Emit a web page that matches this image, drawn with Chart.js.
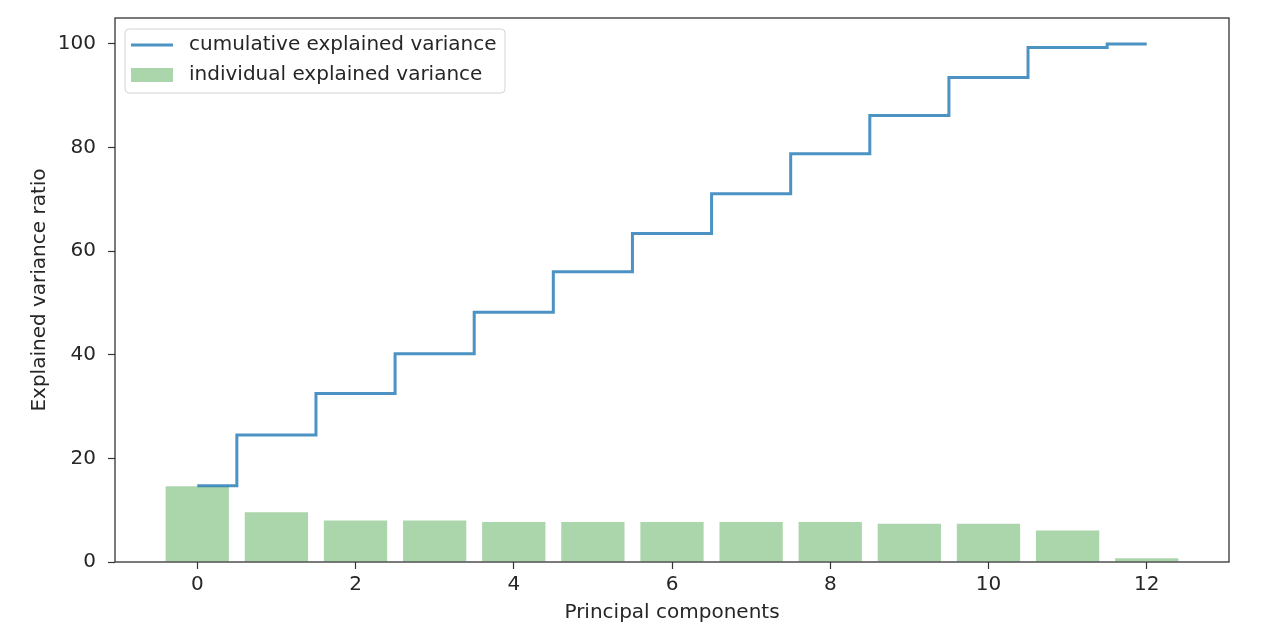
<!DOCTYPE html>
<html lang="en">
<head>
    <meta charset="UTF-8">
    <title>Explained variance</title>
    <script src="https://cdn.jsdelivr.net/npm/chart.js"></script>
    <style>
        html, body { margin: 0; padding: 0; background: #fff; }
        .wrap { width: 1262px; height: 634px; position: relative; }
    </style>
</head>
<body>
    <div class="wrap"><canvas id="pcaChart"></canvas></div>
    <script>
        // values
        var components = [0, 1, 2, 3, 4, 5, 6, 7, 8, 9, 10, 11, 12];
        var individual = [14.6, 9.6, 8.0, 8.0, 7.7, 7.7, 7.7, 7.7, 7.7, 7.4, 7.4, 6.1, 0.7];
        var cumulative = [14.7, 24.5, 32.5, 40.2, 48.2, 56.0, 63.4, 71.1, 78.8, 86.2, 93.5, 99.3, 100];
        var xTicks = [0, 2, 4, 6, 8, 10, 12];
        var yTicks = [0, 20, 40, 60, 80, 100];

        var lineColor = 'rgba(31,119,180,0.8)';
        var barColor = 'rgba(0,128,0,0.33)';
        var axisColor = '#333';
        var fontSize = 20;

        Chart.defaults.font.family = '"DejaVu Sans", sans-serif';
        Chart.defaults.font.size = fontSize;
        Chart.defaults.color = '#262626';

        // frame round the plot area, like matplotlib spines
        var frame = {
            id: 'frame',
            afterDatasetsDraw: function (chart) {
                var a = chart.chartArea, c = chart.ctx;
                c.save();
                c.strokeStyle = axisColor;
                c.lineWidth = 1.3;
                c.strokeRect(a.left, a.top, a.right - a.left, a.bottom - a.top);
                c.restore();
            }
        };

        // legend box in the upper left corner
        var boxLegend = {
            id: 'boxLegend',
            afterDraw: function (chart) {
                var a = chart.chartArea, c = chart.ctx;
                var x = a.left + 10, y = a.top + 11, w = 380, h = 64, r = 4;
                c.save();
                c.beginPath();
                c.roundRect(x, y, w, h, r);
                c.fillStyle = 'rgba(255,255,255,0.8)';
                c.fill();
                c.strokeStyle = '#d4d4d4';
                c.lineWidth = 1;
                c.stroke();

                var ds = chart.data.datasets;
                c.font = fontSize + 'px "DejaVu Sans", sans-serif';
                c.textBaseline = 'middle';
                c.fillStyle = '#262626';

                // cumulative line
                c.strokeStyle = ds[0].borderColor;
                c.lineWidth = 3;
                c.beginPath();
                c.moveTo(x + 6, y + 16);
                c.lineTo(x + 48, y + 16);
                c.stroke();
                c.fillText(ds[0].label, x + 64, y + 16);

                // individual bars
                c.fillStyle = ds[1].backgroundColor;
                c.fillRect(x + 6, y + 39, 42, 14);
                c.fillStyle = '#262626';
                c.fillText(ds[1].label, x + 64, y + 46);
                c.restore();
            }
        };

        var ctx = document.getElementById('pcaChart').getContext('2d');
        var pcaChart = new Chart(ctx, {
            data: {
                datasets: [{
                    type: 'line',
                    label: 'cumulative explained variance',
                    data: components.map(function (c, i) { return { x: c, y: cumulative[i] }; }),
                    borderColor: lineColor,
                    borderWidth: 3,
                    stepped: 'middle',
                    pointRadius: 0,
                    fill: false,
                    order: 0
                }, {
                    type: 'bar',
                    label: 'individual explained variance',
                    data: components.map(function (c, i) { return { x: c, y: individual[i] }; }),
                    backgroundColor: barColor,
                    borderWidth: 0,
                    categoryPercentage: 1,
                    barPercentage: 0.8,
                    order: 1
                }]
            },
            options: {
                responsive: true,
                maintainAspectRatio: false,
                animation: false,
                layout: { padding: { left: 0, right: 33, top: 18, bottom: 0 } },
                plugins: {
                    legend: { display: false },
                    tooltip: { enabled: false }
                },
                scales: {
                    x: {
                        type: 'linear',
                        offset: false,
                        min: -1.04,
                        max: 13.04,
                        afterBuildTicks: function (s) { s.ticks = xTicks.map(function (v) { return { value: v }; }); },
                        afterFit: function (s) { s.height = 72; s.paddingLeft = 0; s.paddingRight = 0; },
                        border: { display: false },
                        grid: { offset: false, drawOnChartArea: false, tickLength: 7, tickWidth: 1.2, tickColor: axisColor },
                        ticks: { padding: 4, maxRotation: 0 },
                        title: { display: true, text: 'Principal components', padding: { top: 0, bottom: 9 } }
                    },
                    y: {
                        min: 0,
                        max: 105,
                        afterBuildTicks: function (s) { s.ticks = yTicks.map(function (v) { return { value: v }; }); },
                        afterFit: function (s) { s.width = 115; s.paddingTop = 0; s.paddingBottom = 0; },
                        border: { display: false },
                        grid: { drawOnChartArea: false, tickLength: 7, tickWidth: 1.2, tickColor: axisColor },
                        ticks: { padding: 12 },
                        title: { display: true, text: 'Explained variance ratio', padding: { top: 28, bottom: 0 } }
                    }
                }
            },
            plugins: [frame, boxLegend]
        });
    </script>
</body>
</html>
